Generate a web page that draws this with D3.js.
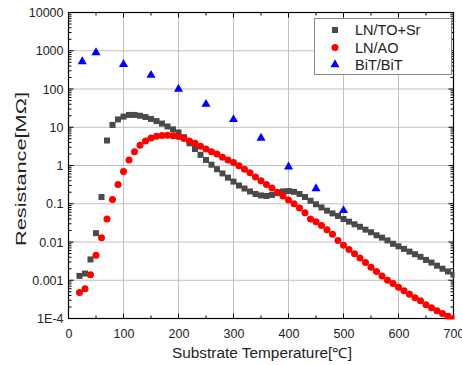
<!DOCTYPE html>
<html><head><meta charset="utf-8">
<script src="https://cdn.jsdelivr.net/npm/d3@7"></script>
<style>body{margin:0;background:#fff}svg{display:block}text{font-family:"Liberation Sans",Arial,sans-serif}</style>
</head><body><svg id="c" width="462" height="365"></svg>
<script>
const temps = [20,30,40,50,60,70,80,90,100,110,120,130,140,150,160,170,180,190,200,210,220,230,240,250,260,270,280,290,300,310,320,330,340,350,360,370,380,390,400,410,420,430,440,450,460,470,480,490,500,510,520,530,540,550,560,570,580,590,600,610,620,630,640,650,660,670,680,690,700];
const lnToSr = [0.0013,0.0015,0.0035,0.017,0.15,4.5,11.5,16,19,21,21,20,18.5,16.5,14.5,12.5,10.5,8.8,7.3,5.5,3.8,2.7,1.9,1.4,1.05,0.8,0.62,0.48,0.38,0.3,0.25,0.21,0.18,0.165,0.16,0.17,0.19,0.21,0.215,0.205,0.18,0.15,0.12,0.097,0.08,0.066,0.056,0.048,0.04,0.034,0.029,0.025,0.021,0.018,0.015,0.013,0.011,0.009,0.0077,0.0066,0.0056,0.0048,0.0041,0.0034,0.0029,0.0024,0.002,0.0017,0.0014];
const lnAo = [0.00048,0.0006,0.0014,0.0045,0.013,0.04,0.13,0.32,0.7,1.4,2.3,3.4,4.4,5.2,5.8,6.1,6.2,6.0,5.7,5.1,4.4,3.8,3.2,2.7,2.3,2.0,1.65,1.4,1.2,0.98,0.8,0.65,0.5,0.4,0.32,0.26,0.2,0.16,0.125,0.1,0.077,0.058,0.04,0.034,0.027,0.021,0.016,0.011,0.0082,0.0064,0.0049,0.0038,0.0029,0.0022,0.0017,0.0013,0.001,0.00082,0.00066,0.00053,0.00043,0.00035,0.00029,0.00023,0.00019,0.00016,0.000135,0.000115,0.0001];
const bitTemps = [25,50,100,150,200,250,300,350,400,450,500];
const bitBit = [520,900,440,230,100,40,16,5.2,0.92,0.25,0.067];
const xTicks = [0,100,200,300,400,500,600,700];
const yTicks = [10000,1000,100,10,1,0.1,0.01,0.001,0.0001];
const yTickLabels = ["10000","1000","100","10","1","0.1","0.01","0.001","1E-4"];
const seriesNames = ["LN/TO+Sr","LN/AO","BiT/BiT"];
const colors = ["#4a4a4a","#ff0000","#0000ff"];

const svg = d3.select("#c");
const L=68.5, R=453.5, T=12.5, B=318.5;
const x = d3.scaleLinear().domain([0,700]).range([L,R]);
const y = d3.scaleLog().domain([1e-4,1e4]).range([B,T]);

// grid
const g = svg.append("g");
g.selectAll(".gx").data(xTicks.slice(1,-1)).enter().append("line")
 .attr("x1",d=>x(d)).attr("x2",d=>x(d)).attr("y1",T).attr("y2",B).attr("stroke","#c0c0c0").attr("stroke-width",1);
g.selectAll(".gy").data(yTicks.slice(1,-1)).enter().append("line")
 .attr("y1",d=>y(d)).attr("y2",d=>y(d)).attr("x1",L).attr("x2",R).attr("stroke","#c0c0c0").attr("stroke-width",1);

// minor ticks
const minorY=[];
for(let e=-4;e<4;e++){for(let k=2;k<=9;k++)minorY.push(k*Math.pow(10,e));}
const tk = svg.append("g").attr("stroke","#000").attr("stroke-width",1);
minorY.forEach(v=>{
  tk.append("line").attr("x1",L).attr("x2",L+3).attr("y1",y(v)).attr("y2",y(v));
  tk.append("line").attr("x1",R).attr("x2",R-3).attr("y1",y(v)).attr("y2",y(v));
});
yTicks.forEach(v=>{
  tk.append("line").attr("x1",L).attr("x2",L+5).attr("y1",y(v)).attr("y2",y(v));
  tk.append("line").attr("x1",R).attr("x2",R-5).attr("y1",y(v)).attr("y2",y(v));
});
d3.range(0,701,50).forEach(v=>{
  const len = v%100===0?5:3;
  tk.append("line").attr("x1",x(v)).attr("x2",x(v)).attr("y1",B).attr("y2",B-len);
  tk.append("line").attr("x1",x(v)).attr("x2",x(v)).attr("y1",T).attr("y2",T+len);
});

// frame
svg.append("rect").attr("x",L).attr("y",T).attr("width",R-L).attr("height",B-T).attr("fill","none").attr("stroke","#000").attr("stroke-width",1.2);

// axes labels via d3 axes (no lines)
const ax = svg.append("g").attr("transform",`translate(0,${B})`).call(d3.axisBottom(x).tickValues(xTicks).tickSize(0).tickPadding(11).tickFormat(d3.format("d")));
ax.select(".domain").remove();
ax.selectAll("text").attr("font-size",12.5).attr("fill","#222").attr("font-family","Liberation Sans, Arial, sans-serif");
const ay = svg.append("g").attr("transform",`translate(${L},0)`).call(d3.axisLeft(y).tickValues(yTicks).tickSize(0).tickPadding(5).tickFormat((d,i)=>yTickLabels[i]));
ay.select(".domain").remove();
ay.selectAll("text").attr("font-size",12.5).attr("fill","#222").attr("font-family","Liberation Sans, Arial, sans-serif");

svg.append("text").attr("x",262).attr("y",358).attr("text-anchor","middle").attr("font-family","DejaVu Sans, sans-serif").attr("font-size",14).attr("textLength",180).attr("lengthAdjust","spacingAndGlyphs").attr("fill","#222").text("Substrate Temperature[℃]");
svg.append("text").attr("transform",`translate(26,169) rotate(-90)`).attr("text-anchor","middle").attr("font-family","DejaVu Sans, sans-serif").attr("font-size",14.5).attr("textLength",154).attr("lengthAdjust","spacingAndGlyphs").attr("fill","#222").text("Resistance[MΩ]");

// data
svg.append("defs").append("clipPath").attr("id","cp").append("rect").attr("x",L).attr("y",T-5).attr("width",R-L+1).attr("height",B-T+6);
const d1 = temps.map((t,i)=>({t,v:lnToSr[i]}));
const d2 = temps.map((t,i)=>({t,v:lnAo[i]}));
const d3d = bitTemps.map((t,i)=>({t,v:bitBit[i]}));
const pg = svg.append("g").attr("clip-path","url(#cp)");
pg.selectAll(".s1").data(d1).enter().append("rect").attr("x",d=>x(d.t)-3).attr("y",d=>y(d.v)-3).attr("width",6).attr("height",6).attr("fill",colors[0]);
pg.selectAll(".s2").data(d2).enter().append("circle").attr("cx",d=>x(d.t)).attr("cy",d=>y(d.v)).attr("r",3.5).attr("fill",colors[1]);
const tri = d3.symbol().type(d3.symbolTriangle).size(36);
pg.selectAll(".s3").data(d3d).enter().append("path").attr("d",tri).attr("transform",d=>`translate(${x(d.t)},${y(d.v)})`).attr("fill",colors[2]);

// legend
const lg = svg.append("g");
lg.append("rect").attr("x",314.5).attr("y",18.5).attr("width",137).attr("height",56).attr("fill","#fff").attr("stroke","#888");
const rows=[30,47.5,64.5];
lg.append("rect").attr("x",335-3).attr("y",rows[0]-3).attr("width",6).attr("height",6).attr("fill",colors[0]);
lg.append("circle").attr("cx",335).attr("cy",rows[1]).attr("r",3.5).attr("fill",colors[1]);
lg.append("path").attr("d",tri).attr("transform",`translate(335,${rows[2]})`).attr("fill",colors[2]);
seriesNames.forEach((n,i)=>lg.append("text").attr("x",355).attr("y",rows[i]+5).attr("font-size",14.5).attr("fill","#222").text(n));
</script></body></html>
